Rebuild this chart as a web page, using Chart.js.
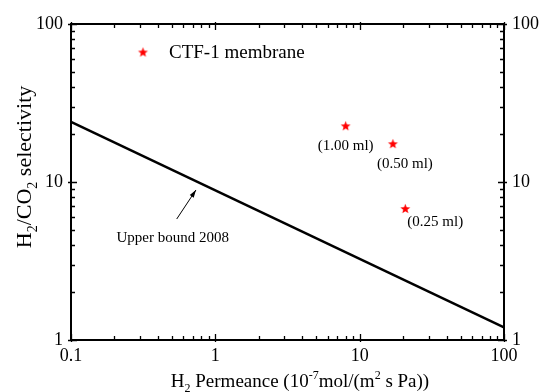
<!DOCTYPE html>
<html>
<head>
<meta charset="utf-8">
<script src="https://cdn.jsdelivr.net/npm/chart.js@4.4.1/dist/chart.umd.min.js"></script>
<style>
  html, body { margin: 0; padding: 0; background: #fff; }
  #wrap { width: 542px; height: 392px; }
</style>
</head>
<body>
<div id="wrap"><canvas id="chart" width="542" height="392"></canvas></div>
<script>
// CTF-1 membrane measurements: H2 permeance (1e-7 mol/(m2 s Pa)) and H2/CO2 selectivity
const permeance = [8.0, 17.0, 20.7];
const selectivity = [22.7, 17.5, 6.8];
const sampleLabels = ['(1.00 ml)', '(0.50 ml)', '(0.25 ml)'];

// 2008 upper bound line end points
const boundPermeance = [0.1, 100];
const boundSelectivity = [24, 1.2];

// decade tick labels
const xTickLabels = [0.1, 1, 10, 100];
const yTickLabels = [1, 10, 100];

const SERIF = "'Liberation Serif', 'Times New Roman', serif";

// filled five-point star used as the point marker
function makeStar(outer, inner, color) {
  const size = Math.ceil(outer * 2) + 2;
  const c = document.createElement('canvas');
  c.width = size; c.height = size;
  const g = c.getContext('2d');
  g.translate(size / 2, size / 2 + 0.5);
  g.beginPath();
  for (let i = 0; i < 10; i++) {
    const r = i % 2 === 0 ? outer : inner;
    const a = -Math.PI / 2 + i * Math.PI / 5;
    const px = r * Math.cos(a), py = r * Math.sin(a);
    if (i === 0) g.moveTo(px, py); else g.lineTo(px, py);
  }
  g.closePath();
  g.fillStyle = color;
  g.fill();
  return c;
}
const star = makeStar(5.2, 2.2, '#ff0000');

// 1..9 x 10^e tick values spanning a decade range
function logTicks(lo, hi) {
  const out = [];
  for (let e = Math.round(Math.log10(lo)); e < Math.round(Math.log10(hi)); e++) {
    for (let k = 1; k < 10; k++) out.push(parseFloat((k * Math.pow(10, e)).toPrecision(3)));
  }
  out.push(hi);
  return out;
}
const isDecade = v => Math.abs(Math.log10(v) - Math.round(Math.log10(v))) < 1e-9;

function decadeLabel(list) {
  return function (value) {
    return list.some(t => Math.abs(t - value) < 1e-9 * t) ? String(value) : '';
  };
}

// text made of runs with optional sub/superscript
function drawRich(ctx, runs, x, y, size, align) {
  const small = Math.round(size * 0.62);
  let total = 0;
  runs.forEach(r => {
    ctx.font = (r.s ? small : size) + 'px ' + SERIF;
    r.w = ctx.measureText(r.t).width;
    total += r.w;
  });
  let cx = align === 'center' ? x - total / 2 : x;
  ctx.textAlign = 'left';
  ctx.textBaseline = 'alphabetic';
  runs.forEach(r => {
    ctx.font = (r.s ? small : size) + 'px ' + SERIF;
    let dy = 0;
    if (r.s === 'sub') dy = size * 0.28;
    if (r.s === 'sup') dy = -size * 0.42;
    ctx.fillText(r.t, cx, y + dy);
    cx += r.w;
  });
}

const decorations = {
  id: 'decorations',
  afterDatasetsDraw(chart) {
    const { ctx, chartArea: a, scales } = chart;
    const xs = scales.x, ys = scales.y;
    ctx.save();
    ctx.fillStyle = '#000';
    ctx.strokeStyle = '#000';

    // frame
    ctx.lineWidth = 2;
    ctx.strokeRect(a.left, a.top, a.right - a.left, a.bottom - a.top);

    // inward tick marks on all four sides
    ctx.lineWidth = 1.3;
    ctx.beginPath();
    xs.ticks.forEach(t => {
      const px = Math.round(xs.getPixelForValue(t.value)) + 0.5;
      const len = isDecade(t.value) ? 6 : 4;
      const out = isDecade(t.value) ? 2 : 0;
      ctx.moveTo(px, a.bottom + out); ctx.lineTo(px, a.bottom - len);
      ctx.moveTo(px, a.top - out); ctx.lineTo(px, a.top + len);
    });
    ys.ticks.forEach(t => {
      const py = Math.round(ys.getPixelForValue(t.value)) + 0.5;
      const len = isDecade(t.value) ? 6 : 4;
      const out = isDecade(t.value) ? 3 : 0;
      ctx.moveTo(a.left - out, py); ctx.lineTo(a.left + len, py);
      ctx.moveTo(a.right + out, py); ctx.lineTo(a.right - len, py);
    });
    ctx.stroke();

    // legend entry
    ctx.drawImage(star, a.left + 72 - star.width / 2, a.top + 28 - star.height / 2);
    ctx.font = '19px ' + SERIF;
    ctx.textAlign = 'left';
    ctx.textBaseline = 'middle';
    ctx.fillText('CTF-1 membrane', a.left + 98, a.top + 29);

    // sample labels next to each point
    const meta = chart.getDatasetMeta(0);
    const offsets = [[0, 20], [12, 20], [30, 14]];
    ctx.font = '15px ' + SERIF;
    ctx.textAlign = 'center';
    meta.data.forEach((pt, i) => {
      ctx.fillText(sampleLabels[i], pt.x + offsets[i][0], pt.y + offsets[i][1]);
    });

    // arrow pointing at the upper bound line
    const tx = xs.getPixelForValue(0.54), ty = ys.getPixelForValue(5.83);
    const hx = xs.getPixelForValue(0.734), hy = ys.getPixelForValue(8.9);
    ctx.lineWidth = 1;
    ctx.beginPath();
    ctx.moveTo(tx, ty); ctx.lineTo(hx, hy);
    ctx.stroke();
    const ang = Math.atan2(hy - ty, hx - tx);
    ctx.beginPath();
    ctx.moveTo(hx, hy);
    ctx.lineTo(hx - 8 * Math.cos(ang - 0.3), hy - 8 * Math.sin(ang - 0.3));
    ctx.lineTo(hx - 8 * Math.cos(ang + 0.3), hy - 8 * Math.sin(ang + 0.3));
    ctx.closePath();
    ctx.fill();
    ctx.font = '15px ' + SERIF;
    ctx.textAlign = 'center';
    ctx.textBaseline = 'middle';
    ctx.fillText('Upper bound 2008', tx - 4, ty + 19);

    // axis titles
    drawRich(ctx, [
      { t: 'H' }, { t: '2', s: 'sub' }, { t: ' Permeance (10' }, { t: '-7', s: 'sup' },
      { t: 'mol/(m' }, { t: '2', s: 'sup' }, { t: ' s Pa))' }
    ], 300, 387, 19, 'center');

    ctx.save();
    ctx.translate(31, (a.top + a.bottom) / 2 - 15);
    ctx.rotate(-Math.PI / 2);
    drawRich(ctx, [
      { t: 'H' }, { t: '2', s: 'sub' }, { t: '/CO' }, { t: '2', s: 'sub' }, { t: ' selectivity' }
    ], 0, 0, 22, 'center');
    ctx.restore();

    ctx.restore();
  }
};

const tickFont = { family: SERIF, size: 18 };

new Chart(document.getElementById('chart'), {
  type: 'scatter',
  data: {
    datasets: [
      {
        label: 'CTF-1 membrane',
        data: permeance.map((v, i) => ({ x: v, y: selectivity[i] })),
        pointStyle: star,
        showLine: false
      },
      {
        label: 'Upper bound 2008',
        data: boundPermeance.map((v, i) => ({ x: v, y: boundSelectivity[i] })),
        showLine: true,
        borderColor: '#000',
        borderWidth: 2.5,
        pointRadius: 0,
        pointHoverRadius: 0
      }
    ]
  },
  options: {
    responsive: false,
    animation: false,
    events: [],
    layout: { padding: { top: 24, left: 0, right: 0, bottom: 0 } },
    plugins: { legend: { display: false }, tooltip: { enabled: false } },
    scales: {
      x: {
        type: 'logarithmic', position: 'bottom', min: 0.1, max: 100,
        afterBuildTicks: s => { s.ticks = logTicks(0.1, 100).map(v => ({ value: v })); },
        afterFit: s => { s.height = 52; },
        grid: { display: false, drawTicks: false },
        border: { display: false },
        ticks: {
          autoSkip: false, maxRotation: 0, padding: 5, color: '#000', font: tickFont,
          callback: decadeLabel(xTickLabels)
        }
      },
      y: {
        type: 'logarithmic', position: 'left', min: 1, max: 100,
        afterBuildTicks: s => { s.ticks = logTicks(1, 100).map(v => ({ value: v })); },
        afterFit: s => { s.width = 71; },
        grid: { display: false, drawTicks: false },
        border: { display: false },
        ticks: {
          autoSkip: false, padding: 8, color: '#000', font: tickFont,
          callback: decadeLabel(yTickLabels)
        }
      },
      y2: {
        type: 'logarithmic', position: 'right', min: 1, max: 100,
        afterBuildTicks: s => { s.ticks = logTicks(1, 100).map(v => ({ value: v })); },
        afterFit: s => { s.width = 38; },
        grid: { display: false, drawTicks: false },
        border: { display: false },
        ticks: {
          autoSkip: false, padding: 8, color: '#000', font: tickFont,
          callback: decadeLabel(yTickLabels)
        }
      }
    }
  },
  plugins: [decorations]
});
</script>
</body>
</html>
